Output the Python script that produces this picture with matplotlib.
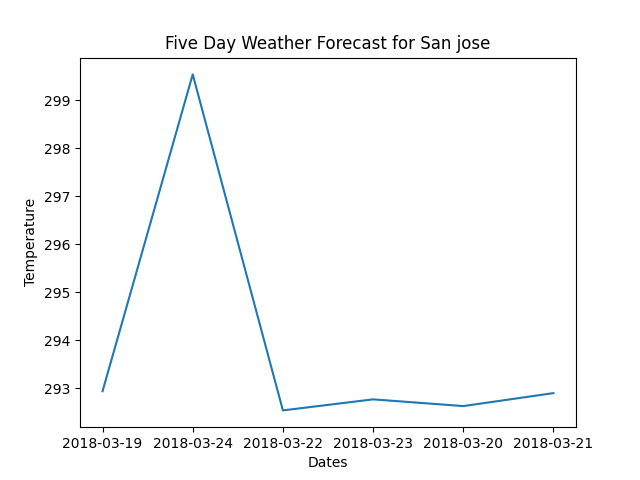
import matplotlib
matplotlib.use('Agg')
import matplotlib.pyplot as plt

# Forecast data
dates = ['2018-03-19', '2018-03-24', '2018-03-22', '2018-03-23', '2018-03-20', '2018-03-21']
temps = [292.94, 299.54, 292.54, 292.77, 292.63, 292.90]

plt.figure(figsize=(6.4, 4.8), dpi=100)
plt.plot(dates, temps)
plt.title('Five Day Weather Forecast for San jose')
plt.xlabel('Dates')
plt.ylabel('Temperature')
plt.savefig('out.png')
plt.close()
